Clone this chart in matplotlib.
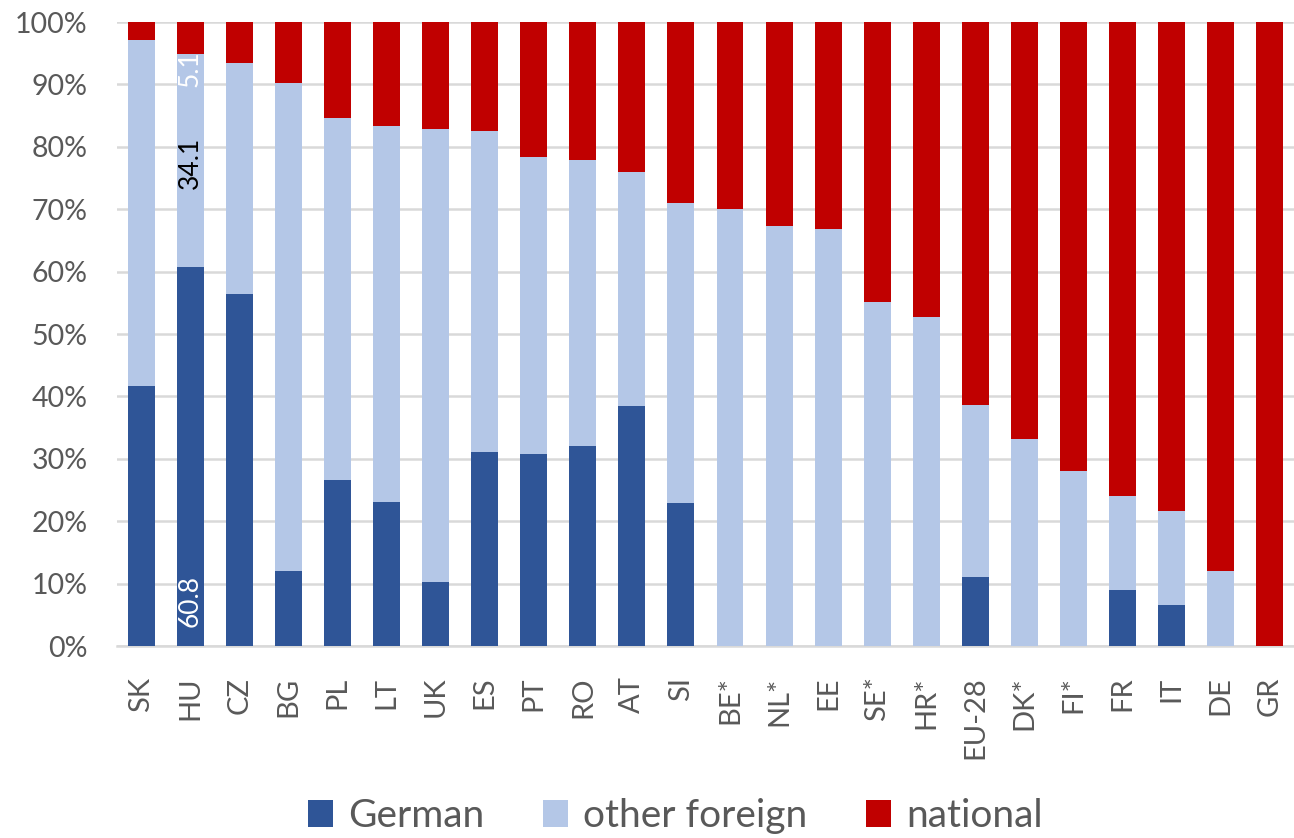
import numpy as np
import matplotlib
matplotlib.use("Agg")
import matplotlib.pyplot as plt

# shares in %
countries = ["SK", "HU", "CZ", "BG", "PL", "LT", "UK", "ES", "PT", "RO", "AT", "SI",
             "BE*", "NL*", "EE", "SE*", "HR*", "EU-28", "DK*", "FI*", "FR", "IT", "DE", "GR"]
german = [41.7, 60.8, 56.4, 12.0, 26.6, 23.0, 10.2, 31.1, 30.7, 32.1, 38.5, 22.9,
          0, 0, 0, 0, 0, 11.1, 0, 0, 8.9, 6.5, 0, 0]
other_foreign = [55.4, 34.1, 37.1, 78.2, 58.1, 60.4, 72.7, 51.4, 47.6, 45.8, 37.5, 48.1,
                 70.1, 67.3, 66.9, 55.1, 52.8, 27.5, 33.1, 28.1, 15.1, 15.2, 12.1, 0]
national = [100 - g - o for g, o in zip(german, other_foreign)]

plt.rcParams['font.family'] = ['Lato', 'DejaVu Sans']

c_german = '#2F5597'
c_other = '#B4C7E7'
c_nat = '#C00000'
txt = '#595959'

fig = plt.figure(figsize=(12.94, 8.38), dpi=100)
ax = fig.add_axes([0.0904, 0.2291, 0.9096, 0.7446])

x = np.arange(len(countries))
w = 0.55
german = np.array(german)
other_foreign = np.array(other_foreign)
national = np.array(national)
ax.bar(x, german, w, color=c_german, label='German', zorder=3)
ax.bar(x, other_foreign, w, bottom=german, color=c_other, label='other foreign', zorder=3)
ax.bar(x, national, w, bottom=german + other_foreign, color=c_nat, label='national', zorder=3)

# data labels on HU
i = countries.index("HU")
ax.text(i, 3, "{:.1f}".format(german[i]), rotation=90, ha='center', va='bottom',
        color='white', fontsize=19, zorder=4)
ax.text(i, german[i] + other_foreign[i] - 13.3, "{:.1f}".format(other_foreign[i]), rotation=90,
        ha='center', va='top', color='black', fontsize=19, zorder=4)
ax.text(i, german[i] + other_foreign[i] + 0.6, "{:.1f}".format(national[i]), rotation=90,
        ha='center', va='top', color='white', fontsize=19, zorder=4)

ax.set_xlim(-0.5, len(countries) - 0.5)
ax.set_ylim(0, 100)
ax.set_yticks(np.arange(0, 101, 10))
ax.set_yticklabels(["{}%".format(v) for v in range(0, 101, 10)])
ax.set_xticks(x)
ax.set_xticklabels(countries, rotation=90)
ax.tick_params(axis='y', length=0, pad=21, labelsize=20.5, labelcolor=txt)
ax.tick_params(axis='x', length=0, pad=22, labelsize=21, labelcolor=txt)
ax.grid(axis='y', color='#D9D9D9', linewidth=1.8, zorder=0)
for s in ['top', 'right', 'left']:
    ax.spines[s].set_visible(False)
ax.spines['bottom'].set_color('#D9D9D9')
ax.spines['bottom'].set_linewidth(1.8)

fig.legend(loc='center', bbox_to_anchor=(0.522, 0.026), ncol=3, frameon=False,
           fontsize=28, labelcolor=txt, handlelength=0.64, handleheight=0.67,
           handletextpad=0.4, columnspacing=1.5)

fig.savefig("out.png", dpi=100)
